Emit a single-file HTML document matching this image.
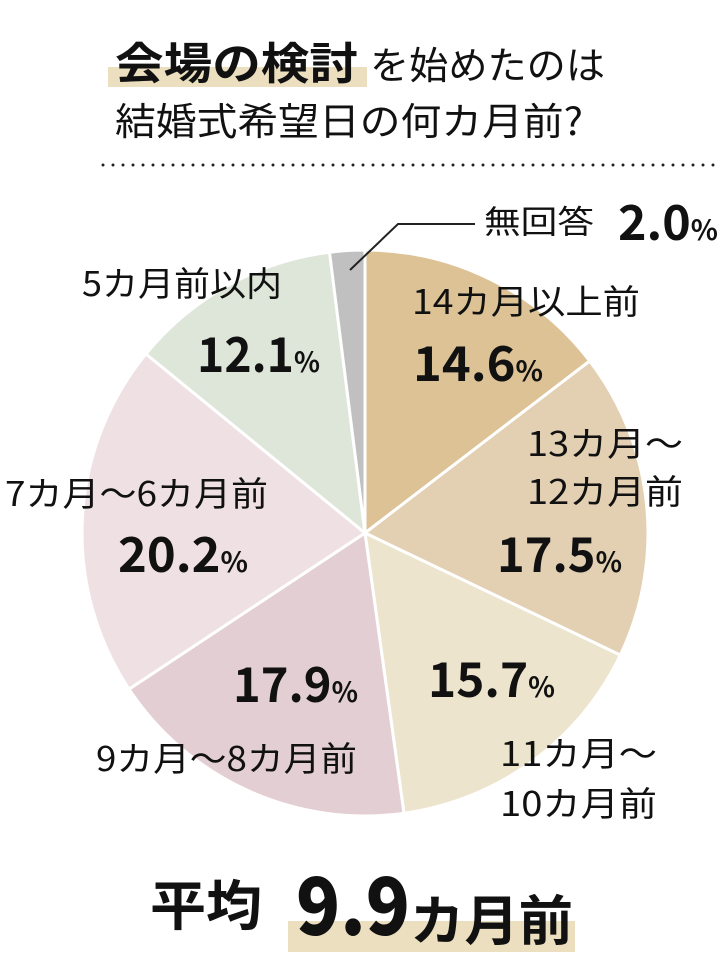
<!DOCTYPE html>
<html><head><meta charset="utf-8"><style>
html,body{margin:0;padding:0;background:#fff;}
svg{display:block;font-family:"Noto Sans CJK JP",sans-serif;}
</style></head><body>
<svg width="721" height="961" viewBox="0 0 721 961" xmlns="http://www.w3.org/2000/svg">
<rect x="108" y="67" width="259" height="20" fill="#ecdfbf"/>
<g fill="#111" font-family="Noto Sans CJK JP, sans-serif">
<text x="115" y="79" font-size="44" font-weight="bold" textLength="243" lengthAdjust="spacingAndGlyphs">会場の検討</text>
<text x="370" y="79" font-size="38" textLength="235" lengthAdjust="spacingAndGlyphs">を始めたのは</text>
<text x="115" y="135" font-size="38" textLength="468" lengthAdjust="spacingAndGlyphs">結婚式希望日の何カ月前?</text>
</g>
<line x1="103" y1="165" x2="718" y2="165" stroke="#222" stroke-width="3" stroke-dasharray="0 10" stroke-linecap="round"/>
<g stroke="#fff" stroke-width="3" stroke-linejoin="round">
<path d="M365,533 L365,250 A283,283 0 0 1 589.7,361 Z" fill="#dcc295"/>
<path d="M365,533 L589.7,361 A283,283 0 0 1 620.3,655.1 Z" fill="#e3d0b3"/>
<path d="M365,533 L620.3,655.1 A283,283 0 0 1 404,813.3 Z" fill="#ede4cd"/>
<path d="M365,533 L404,813.3 A283,283 0 0 1 129,689.1 Z" fill="#e3cfd3"/>
<path d="M365,533 L129,689.1 A283,283 0 0 1 145.9,353.9 Z" fill="#efe1e3"/>
<path d="M365,533 L145.9,353.9 A283,283 0 0 1 329.5,252.2 Z" fill="#dee6da"/>
<path d="M365,533 L329.5,252.2 A283,283 0 0 1 365,250 Z" fill="#c0c0c0"/>
</g>
<polyline points="350,270 398,224 475,224" fill="none" stroke="#222" stroke-width="2"/>
<g fill="#111" font-family="Noto Sans CJK JP, sans-serif">
<text x="484" y="233" font-size="32" textLength="110" lengthAdjust="spacingAndGlyphs">無回答</text>
<text x="618" y="240" font-size="48" font-weight="bold" textLength="100" lengthAdjust="spacingAndGlyphs">2.0<tspan font-size="28">%</tspan></text>
<text x="412" y="314" font-size="34" textLength="228" lengthAdjust="spacingAndGlyphs">14カ月以上前</text>
<text x="413" y="381" font-size="48" font-weight="bold" textLength="130" lengthAdjust="spacingAndGlyphs">14.6<tspan font-size="28">%</tspan></text>
<text x="527" y="456" font-size="34" textLength="156" lengthAdjust="spacingAndGlyphs">13カ月～</text>
<text x="527" y="504" font-size="34" textLength="156" lengthAdjust="spacingAndGlyphs">12カ月前</text>
<text x="497" y="572" font-size="48" font-weight="bold" textLength="125" lengthAdjust="spacingAndGlyphs">17.5<tspan font-size="28">%</tspan></text>
<text x="428" y="697" font-size="48" font-weight="bold" textLength="127" lengthAdjust="spacingAndGlyphs">15.7<tspan font-size="28">%</tspan></text>
<text x="500" y="766" font-size="34" textLength="157" lengthAdjust="spacingAndGlyphs">11カ月～</text>
<text x="500" y="816" font-size="34" textLength="157" lengthAdjust="spacingAndGlyphs">10カ月前</text>
<text x="233" y="702" font-size="48" font-weight="bold" textLength="125" lengthAdjust="spacingAndGlyphs">17.9<tspan font-size="28">%</tspan></text>
<text x="96" y="771" font-size="34" textLength="261" lengthAdjust="spacingAndGlyphs">9カ月～8カ月前</text>
<text x="5" y="506" font-size="34" textLength="263" lengthAdjust="spacingAndGlyphs">7カ月～6カ月前</text>
<text x="118" y="572" font-size="48" font-weight="bold" textLength="130" lengthAdjust="spacingAndGlyphs">20.2<tspan font-size="28">%</tspan></text>
<text x="82" y="296" font-size="34" textLength="200" lengthAdjust="spacingAndGlyphs">5カ月前以内</text>
<text x="197" y="372" font-size="48" font-weight="bold" textLength="123" lengthAdjust="spacingAndGlyphs">12.1<tspan font-size="28">%</tspan></text>
</g>
<rect x="288" y="921" width="287" height="31" fill="#ecdfbf"/>
<g fill="#111" font-family="Noto Sans CJK JP, sans-serif">
<text x="150" y="925" font-size="54" font-weight="bold" textLength="112" lengthAdjust="spacingAndGlyphs">平均</text>
<text x="296" y="935" font-size="80" font-weight="900" textLength="114" lengthAdjust="spacingAndGlyphs">9.9</text>
<text x="410" y="940" font-size="54" font-weight="bold" textLength="163" lengthAdjust="spacingAndGlyphs">カ月前</text>
</g>
</svg>
</body></html>
